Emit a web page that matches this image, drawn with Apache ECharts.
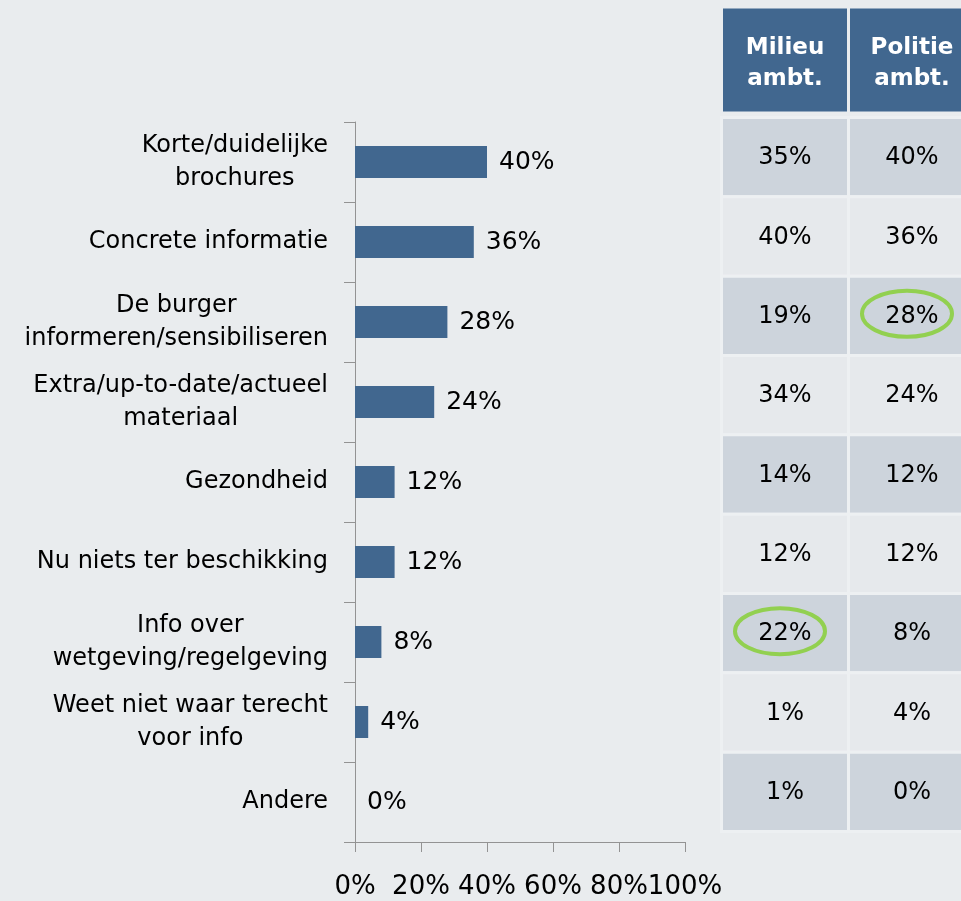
<!DOCTYPE html>
<html>
<head>
<meta charset="utf-8">
<script src="https://cdn.jsdelivr.net/npm/echarts@6/dist/echarts.min.js"></script>
<style>
  html, body { margin: 0; padding: 0; background: #e9ecee; }
  #chart { width: 961px; height: 901px; }
</style>
</head>
<body>
<div id="chart"></div>
<script>
// gegevens
const categories = [
  'Korte/duidelijke\nbrochures',
  'Concrete informatie',
  'De burger\ninformeren/sensibiliseren',
  'Extra/up-to-date/actueel\nmateriaal',
  'Gezondheid',
  'Nu niets ter beschikking',
  'Info over\nwetgeving/regelgeving',
  'Weet niet waar terecht\nvoor info',
  'Andere'
];
const totalValues = [40, 36, 28, 24, 12, 12, 8, 4, 0];
const tableColumns = ['Milieu\nambt.', 'Politie\nambt.'];
const milieuValues = [35, 40, 19, 34, 14, 12, 22, 1, 1];
const politieValues = [40, 36, 28, 24, 12, 12, 8, 4, 0];
// omcirkelde cellen: [kolom, rij]
const circledCells = [[1, 2], [0, 6]];
const xMax = 100;
const xInterval = 20;

const FONT = 'DejaVu Sans';
const axisColor = '#939393';

const cellData = [];
categories.forEach((c, i) => {
  cellData.push([0, i, milieuValues[i]]);
  cellData.push([1, i, politieValues[i]]);
});

const myChart = echarts.init(document.getElementById('chart'));

myChart.setOption({
  backgroundColor: '#e9ecee',
  animation: false,
  grid: [
    { left: 355, top: 122, width: 330, height: 720, containLabel: false, outerBoundsMode: 'none' },
    { left: 721.5, top: 117.5, width: 254, height: 714, containLabel: false, outerBoundsMode: 'none' }
  ],
  xAxis: [
    {
      gridIndex: 0,
      type: 'value',
      min: 0,
      max: xMax,
      interval: xInterval,
      splitLine: { show: false },
      axisLine: { show: true, lineStyle: { color: axisColor } },
      axisTick: { show: true, length: 10, lineStyle: { color: axisColor } },
      axisLabel: {
        formatter: '{value}%',
        color: '#000',
        fontFamily: FONT,
        fontSize: 26,
        margin: 32
      }
    },
    {
      gridIndex: 1,
      type: 'category',
      position: 'top',
      data: tableColumns,
      axisLine: { show: false },
      axisTick: { show: false },
      axisLabel: {
        interval: 0,
        hideOverlap: false,
        margin: 6,
        color: '#ffffff',
        fontFamily: FONT,
        fontWeight: 'bold',
        fontSize: 23,
        lineHeight: 31,
        backgroundColor: '#41678f',
        width: 118,
        padding: [24, 3, 17, 3],
        align: 'center'
      }
    }
  ],
  yAxis: [
    {
      gridIndex: 0,
      type: 'category',
      inverse: true,
      data: categories,
      axisLine: { show: true, lineStyle: { color: axisColor } },
      axisTick: { show: true, length: 11, lineStyle: { color: axisColor } },
      axisLabel: {
        interval: 0,
        margin: 27,
        formatter: (v) => v.split('\n').map(l => '{c|' + l + '}').join('\n'),
        rich: {
          c: { align: 'center', fontFamily: FONT, fontSize: 24, lineHeight: 33, color: '#000' }
        }
      }
    },
    {
      gridIndex: 1,
      type: 'category',
      inverse: true,
      data: categories,
      show: false
    }
  ],
  series: [
    {
      name: 'Totaal',
      type: 'bar',
      xAxisIndex: 0,
      yAxisIndex: 0,
      data: totalValues,
      barWidth: 32,
      itemStyle: { color: '#41678f' },
      label: {
        show: true,
        position: 'right',
        distance: 12,
        formatter: '{c}%',
        fontFamily: FONT,
        fontSize: 25,
        color: '#000'
      }
    },
    {
      name: 'Tabel',
      type: 'custom',
      xAxisIndex: 1,
      yAxisIndex: 1,
      data: cellData,
      renderItem: (params, api) => {
        const col = api.value(0);
        const row = api.value(1);
        const c = api.coord([col, row]);
        const s = api.size([1, 1]);
        return {
          type: 'group',
          children: [
            {
              type: 'rect',
              shape: { x: c[0] - s[0] / 2, y: c[1] - s[1] / 2, width: s[0], height: s[1] },
              style: { fill: row % 2 === 0 ? '#cdd4dc' : '#e6e9ec', stroke: '#edf0f2', lineWidth: 3 }
            },
            {
              type: 'text',
              style: {
                text: api.value(2) + '%',
                x: c[0],
                y: c[1] + 1,
                align: 'center',
                verticalAlign: 'middle',
                font: '24px "DejaVu Sans"',
                fill: '#000'
              }
            }
          ]
        };
      }
    },
    {
      name: 'Omcirkeld',
      type: 'custom',
      xAxisIndex: 1,
      yAxisIndex: 1,
      data: circledCells,
      z: 5,
      renderItem: (params, api) => {
        const c = api.coord([api.value(0), api.value(1)]);
        return {
          type: 'ellipse',
          shape: { cx: c[0] - 5, cy: c[1] - 2, rx: 45, ry: 23 },
          style: { fill: 'none', stroke: '#92d050', lineWidth: 4 }
        };
      }
    }
  ]
});
</script>
</body>
</html>
